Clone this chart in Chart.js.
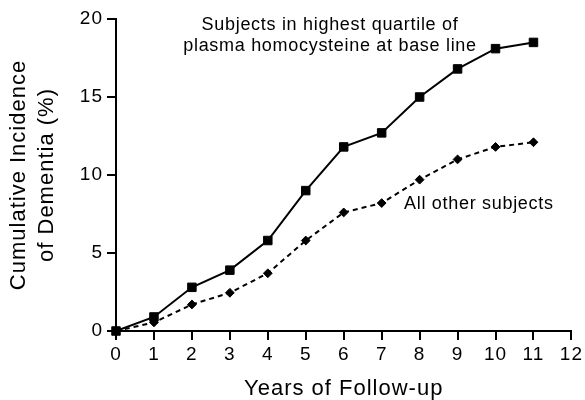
<!DOCTYPE html>
<html>
<head>
<meta charset="utf-8">
<script src="https://cdn.jsdelivr.net/npm/chart.js@4/dist/chart.umd.min.js"></script>
<style>
  html, body { margin: 0; padding: 0; background: #fff; }
  #wrap { width: 585px; height: 400px; }
</style>
</head>
<body>
<div id="wrap"><canvas id="chart"></canvas></div>
<script>
// data
const years = [0, 1, 2, 3, 4, 5, 6, 7, 8, 9, 10, 11];
const highQuartile = [0, 0.9, 2.8, 3.9, 5.8, 9.0, 11.8, 12.7, 15.0, 16.8, 18.1, 18.5];
const otherSubjects = [0, 0.55, 1.7, 2.45, 3.7, 5.8, 7.6, 8.2, 9.7, 11.0, 11.8, 12.1];
const xTicks = [0, 1, 2, 3, 4, 5, 6, 7, 8, 9, 10, 11, 12];
const yTicks = [0, 5, 10, 15, 20];

const FONT = '"Liberation Sans", Arial, Helvetica, sans-serif';

function toPoints(xs, ys){ return xs.map((x, i) => ({ x: x, y: ys[i] })); }

// wide-ish tracking like the printed figure
const spacing = {
  id: "spacing",
  beforeDraw(chart){ chart.ctx.letterSpacing = "1px"; }
};

// in-plot labels for the two curves
const curveLabels = {
  id: "curveLabels",
  afterDraw(chart){
    const ctx = chart.ctx;
    ctx.save();
    ctx.letterSpacing = "0.7px";
    ctx.fillStyle = "#000";
    ctx.font = "18px " + FONT;
    ctx.textBaseline = "alphabetic";
    ctx.textAlign = "center";
    ctx.fillText("Subjects in highest quartile of", 330, 30);
    ctx.fillText("plasma homocysteine at base line", 330, 51);
    ctx.textAlign = "left";
    ctx.fillText("All other subjects", 404, 209);
    ctx.restore();
  }
};

new Chart(document.getElementById("chart"), {
  type: "line",
  data: {
    datasets: [
      {
        label: "Highest quartile",
        data: toPoints(years, highQuartile),
        borderColor: "#000",
        backgroundColor: "#000",
        borderWidth: 2,
        pointStyle: "rect",
        pointRadius: 6,
        pointBorderWidth: 1,
        clip: false,
        tension: 0
      },
      {
        label: "All other subjects",
        data: toPoints(years, otherSubjects),
        borderColor: "#000",
        backgroundColor: "#000",
        borderWidth: 2,
        borderDash: [5, 4],
        pointStyle: "rectRot",
        pointRadius: 4.4,
        pointBorderWidth: 1,
        clip: false,
        tension: 0
      }
    ]
  },
  options: {
    responsive: true,
    maintainAspectRatio: false,
    animation: false,
    layout: { padding: { top: 19, right: 13, left: 0, bottom: 0 } },
    plugins: {
      legend: { display: false },
      tooltip: { enabled: false }
    },
    scales: {
      x: {
        type: "linear",
        min: 0,
        max: 12,
        afterBuildTicks: s => { s.ticks = xTicks.map(v => ({ value: v })); },
        afterFit: s => { s.height = 69; },
        ticks: { color: "#000", font: { family: FONT, size: 19 }, padding: 3, autoSkip: false, maxRotation: 0 },
        grid: { drawOnChartArea: false, drawTicks: true, tickLength: 9, color: "#000", lineWidth: 2 },
        border: { display: true, color: "#000", width: 2 },
        title: {
          display: true,
          text: "Years of Follow-up",
          color: "#000",
          font: { family: FONT, size: 22, lineHeight: 1 },
          padding: { top: 0, bottom: 0 }
        }
      },
      y: {
        type: "linear",
        min: 0,
        max: 20,
        afterBuildTicks: s => { s.ticks = yTicks.map(v => ({ value: v })); },
        afterFit: s => { s.width = 116; },
        ticks: { color: "#000", font: { family: FONT, size: 19 }, padding: 4 },
        grid: { drawOnChartArea: false, drawTicks: true, tickLength: 9, color: "#000", lineWidth: 2 },
        border: { display: true, color: "#000", width: 2 },
        title: {
          display: true,
          text: ["Cumulative Incidence", "of Dementia (%)"],
          color: "#000",
          font: { family: FONT, size: 22, lineHeight: 1.25 },
          padding: { top: 5.5, bottom: 0 }
        }
      }
    }
  },
  plugins: [spacing, curveLabels]
});
</script>
</body>
</html>
